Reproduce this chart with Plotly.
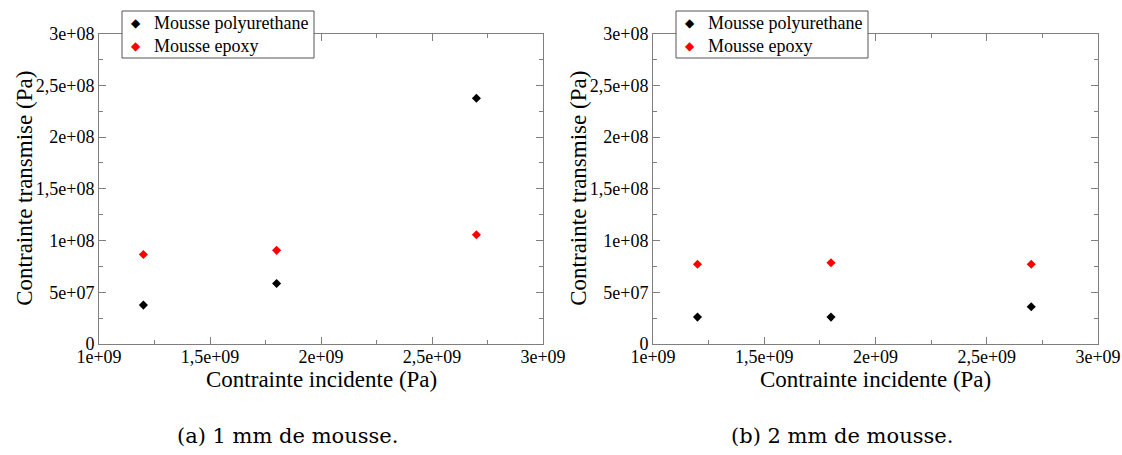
import plotly.graph_objects as go

# Data
x_incident = [1.2e9, 1.8e9, 2.7e9]
a_polyurethane = [3.76e7, 5.85e7, 2.375e8]
a_epoxy = [8.65e7, 9.05e7, 1.055e8]
b_polyurethane = [2.6e7, 2.6e7, 3.6e7]
b_epoxy = [7.7e7, 7.85e7, 7.7e7]

series_names = ["Mousse polyurethane", "Mousse epoxy"]
series_colors = ["#000000", "#ff0000"]

x_tickvals = [1e9, 1.5e9, 2e9, 2.5e9, 3e9]
x_ticktext = ["1e+09", "1,5e+09", "2e+09", "2,5e+09", "3e+09"]
y_tickvals = [0, 5e7, 1e8, 1.5e8, 2e8, 2.5e8, 3e8]
y_ticktext = ["0", "5e+07", "1e+08", "1,5e+08", "2e+08", "2,5e+08", "3e+08"]

x_title = "Contrainte incidente (Pa)"
y_title = "Contrainte transmise (Pa)"
captions = ["(a) 1 mm de mousse.", "(b) 2 mm de mousse."]

W, H = 1122, 455
FONT = "Liberation Serif, Times New Roman, Times, serif"
CAPFONT = "DejaVu Serif, serif"
GREY = "#7f7f7f"

fig = go.Figure()

panels = [
    ("x", "y", a_polyurethane, a_epoxy),
    ("x2", "y2", b_polyurethane, b_epoxy),
]
for xa, ya, poly, epo in panels:
    for name, col, vals in zip(series_names, series_colors, [poly, epo]):
        fig.add_trace(go.Scatter(
            x=x_incident, y=vals, mode="markers", name=name,
            xaxis=xa, yaxis=ya, showlegend=False,
            marker=dict(symbol="diamond", size=7, color=col,
                        line=dict(width=0)),
        ))

def px_x(p):
    return p / W

def px_y(p):
    return 1 - p / H

top, bottom = 33.5, 344
doms = [(99, 543), (653, 1098)]
legend_boxes = [(122, 314), (676, 868)]
caption_centers = [287, 842]

axis_common = dict(
    showgrid=False, zeroline=False, showline=True, linecolor=GREY, linewidth=1,
    mirror="allticks", ticks="inside", ticklen=7, tickcolor=GREY, tickwidth=1,
    tickfont=dict(family=FONT, size=18, color="black"), automargin=False,
)

layout = dict(
    width=W, height=H,
    margin=dict(l=0, r=0, t=0, b=0, autoexpand=False),
    plot_bgcolor="white", paper_bgcolor="white",
    font=dict(family=FONT, color="black"),
    showlegend=False,
)

annotations = []
shapes = []
for i, (x0, x1) in enumerate(doms):
    sfx = "" if i == 0 else "2"
    layout["xaxis" + sfx] = dict(
        axis_common, domain=[px_x(x0), px_x(x1)], range=[1e9, 3e9],
        tickvals=x_tickvals, ticktext=x_ticktext, ticklabelstandoff=-4,
        minor=dict(ticks="inside", ticklen=4, tickcolor=GREY, dtick=2.5e8, tick0=1e9),
        anchor="y" + sfx,
    )
    layout["yaxis" + sfx] = dict(
        axis_common, domain=[px_y(bottom), px_y(top)], range=[0, 3e8],
        tickvals=y_tickvals, ticktext=y_ticktext,
        minor=dict(ticks="inside", ticklen=4, tickcolor=GREY, dtick=2.5e7, tick0=0),
        anchor="x" + sfx,
    )
    cx = (x0 + x1) / 2
    annotations.append(dict(
        text=x_title, xref="paper", yref="paper", x=px_x(cx), y=px_y(379),
        showarrow=False, font=dict(family=FONT, size=23), xanchor="center", yanchor="middle",
    ))
    annotations.append(dict(
        text=y_title, xref="paper", yref="paper", x=px_x(x0 - 74), y=px_y((top + bottom) / 2),
        showarrow=False, textangle=-90, font=dict(family=FONT, size=23),
        xanchor="center", yanchor="middle",
    ))
    annotations.append(dict(
        text=captions[i], xref="paper", yref="paper", x=px_x(caption_centers[i]), y=px_y(436),
        showarrow=False, font=dict(family=CAPFONT, size=21),
        xanchor="center", yanchor="middle",
    ))
    # legend box
    lx0, lx1 = legend_boxes[i]
    shapes.append(dict(
        type="rect", xref="paper", yref="paper",
        x0=px_x(lx0), x1=px_x(lx1), y0=px_y(58), y1=px_y(11),
        line=dict(color="#555555", width=1), fillcolor="white", layer="above",
    ))
    for j, (name, col) in enumerate(zip(series_names, series_colors)):
        ry = 23 + 23 * j
        annotations.append(dict(
            text="\u25c6", xref="paper", yref="paper", x=px_x(lx0 + 14), y=px_y(ry),
            showarrow=False, font=dict(family="DejaVu Sans", size=12, color=col),
            xanchor="center", yanchor="middle",
        ))
        annotations.append(dict(
            text=name, xref="paper", yref="paper", x=px_x(lx0 + 30), y=px_y(ry),
            showarrow=False, font=dict(family=FONT, size=18, color="black"),
            xanchor="left", yanchor="middle",
        ))

layout["annotations"] = annotations
layout["shapes"] = shapes
fig.update_layout(**layout)

fig.write_html("out.html", config={"displayModeBar": False},
               post_script="document.body.style.margin='0px';")
